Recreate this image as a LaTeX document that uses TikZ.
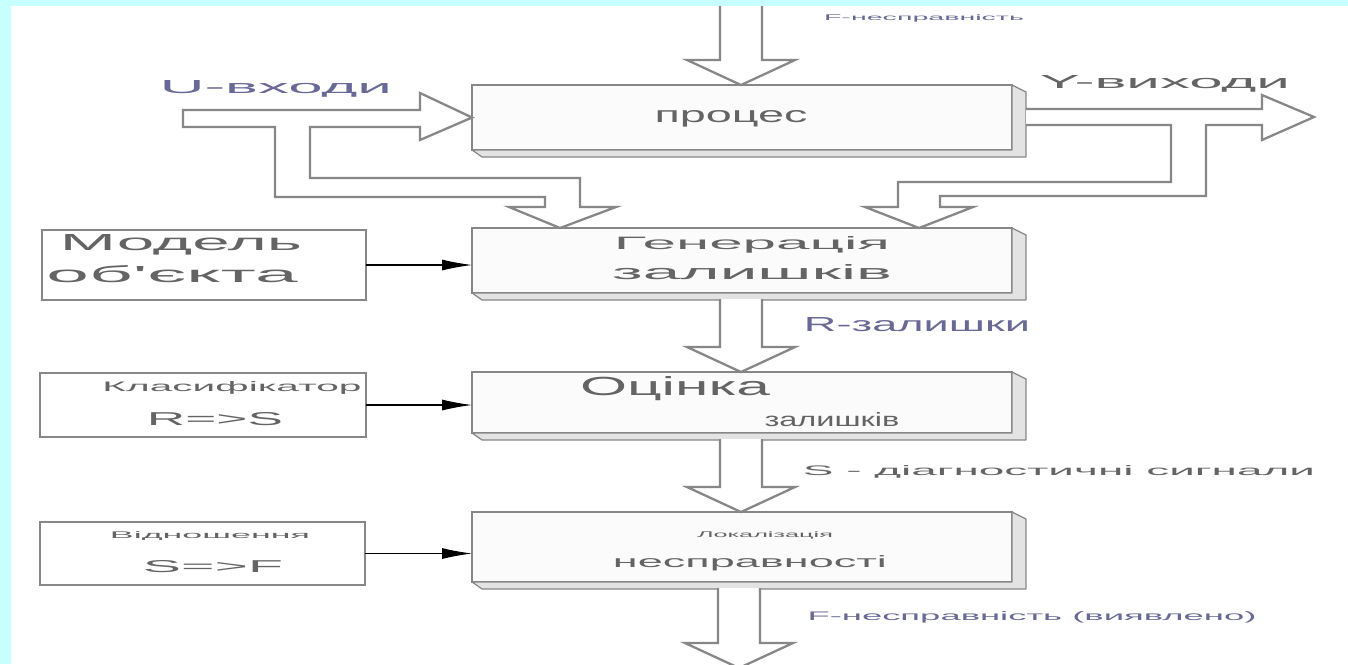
\documentclass[tikz,border=0pt]{standalone}
\usepackage{fontspec}
\setmainfont{Liberation Sans}
\usepackage{graphicx}
\usetikzlibrary{arrows.meta,positioning,calc}

\definecolor{bgcyan}{RGB}{200,255,255}
\definecolor{labblue}{RGB}{105,105,150}
\definecolor{txtgray}{RGB}{100,100,100}
\definecolor{edgegray}{RGB}{135,135,135}

\newlength\unitpx
\setlength\unitpx{0.02cm}
\newcommand{\wbox}[3]{\resizebox{#1\unitpx}{#2\unitpx}{#3}}

\tikzset{
    stage/.style={draw=edgegray, fill=gray!3, line width=0.9pt, minimum width=10.8cm, minimum height=1.3cm, inner sep=0pt, outer sep=0pt},
    aux/.style={draw=edgegray, fill=white, line width=1pt, inner sep=0pt, outer sep=0pt},
    side/.style={draw=edgegray, fill=gray!22, line width=0.7pt, line join=round},
    blk/.style={draw=edgegray, fill=white, line width=1.3pt, line join=miter},
    sig/.style={-{Latex[length=0.6cm,width=0.22cm]}, line width=0.6pt},
    lbl/.style={inner sep=0pt, text=txtgray},
}
\newcommand{\extrude}[1]{%
    \draw[side] (#1.north east) -- ++(14,7) -- ($(#1.south east)+(14,7)$) -- ($(#1.south west)+(10,7)$) -- (#1.south west) -- (#1.south east) -- cycle;}
\newcommand{\blkdown}[2]{%
    \draw[blk] ($(#1)+(-21,0)$) -- ($(#1 |- #2)+(-21,-25)$) -- ($(#1 |- #2)+(-54,-25)$) -- (#1 |- #2)
        -- ($(#1 |- #2)+(54,-25)$) -- ($(#1 |- #2)+(21,-25)$) -- ($(#1)+(21,0)$);}

\begin{document}
\begin{tikzpicture}[x=0.02cm, y=-0.02cm]
    \useasboundingbox (0,0) rectangle (1348,664);
    \clip (0,0) rectangle (1348,664);
    % background
    \fill[white] (0,0) rectangle (1348,664);
    \fill[bgcyan] (0,0) rectangle (1348,6);
    \fill[bgcyan] (0,0) rectangle (11,664);

    % main chain
    \node[stage] (proc) at (742,117.5) {};
    \node[stage] (gen) at (742,260.5) {};
    \node[stage, minimum height=1.22cm] (est) at (742,402.5) {};
    \node[stage, minimum height=1.4cm] (loc) at (742,547) {};
    \extrude{proc}
    \extrude{gen}
    \extrude{est}
    \extrude{loc}

    % side boxes
    \node[aux, minimum width=6.48cm, minimum height=1.4cm] (model) at (204,265) {};
    \node[aux, minimum width=6.52cm, minimum height=1.28cm] (cls) at (203,405) {};
    \node[aux, minimum width=6.5cm, minimum height=1.26cm] (rel) at (202.5,553.5) {};
    \draw[sig] (model.east) -- (model.east -| gen.west);
    \draw[sig] (cls.east) -- (cls.east -| est.west);
    \draw[sig] (rel.east) -- (rel.east -| loc.west);

    % block arrows down the chain
    \coordinate (fsrc) at (741,6);
    \coordinate (genout) at ($(gen.south)+(-1,6)$);
    \coordinate (estout) at ($(est.south)+(-1,6)$);
    \coordinate (locout) at ($(loc.south)+(-3,6)$);
    \coordinate (fout) at (739,668);
    \blkdown{fsrc}{proc.north}
    \blkdown{genout}{est.north}
    \blkdown{estout}{loc.north}
    \blkdown{locout}{fout}

    % U inputs
    \draw[blk] (183,110) -- (420,110) -- (420,93) -- (proc.west) -- (420,140) -- (420,127) -- (310,127)
        -- (310,178) -- (580,178) -- (580,207) -- (616,207) -- ($(gen.north west)+(88,0)$) -- (509,207)
        -- (545,207) -- (545,197) -- (275,197) -- (275,127) -- (183,127) -- cycle;
    % Y outputs
    \draw[blk] (1026,109) -- (1262,109) -- (1262,95) -- (1314,117) -- (1262,140) -- (1262,125) -- (1206,125)
        -- (1206,196) -- (940,196) -- (940,207) -- (973,207) -- ($(gen.north west)+(447,0)$) -- (865,207)
        -- (898,207) -- (898,182) -- (1171,182) -- (1171,125) -- (1026,125);

    % labels
    \node[lbl, text=labblue] (ftop) at (924,18) {\wbox{200}{6}{F-несправність}};
    \node[lbl, text=labblue] (uin) at (276,89) {\wbox{232}{13}{U-входи}};
    \node[lbl] (yout) at (1165,84) {\wbox{250}{13}{Y-виходи}};
    \node[lbl] (tproc) at (731,119) {\wbox{153}{12}{процес}};
    \node[lbl] (tmod1) at (181,245) {\wbox{242}{16}{Модель}};
    \node[lbl] (tmod2) at (172,274) {\wbox{251}{17}{об\textquotesingle єкта}};
    \node[lbl] (tgen1) at (752,244.5) {\wbox{276}{13}{Генерація}};
    \node[lbl] (tgen2) at (752,272) {\wbox{280}{15}{залишків}};
    \node[lbl, text=labblue] (rres) at (917,325) {\wbox{226}{14}{R-залишки}};
    \node[lbl] (tcls1) at (232,388) {\wbox{259}{10}{Класифікатор}};
    \node[lbl] (tcls2) at (215,419) {\wbox{136}{13}{R=>S}};
    \node[lbl] (test1) at (675,389) {\wbox{190}{19}{Оцінка}};
    \node[lbl] (test2) at (832,420) {\wbox{135}{14}{залишків}};
    \node[lbl] (sdiag) at (1059,472) {\wbox{512}{10}{S - діагностичні сигнали}};
    \node[lbl] (trel1) at (210,536) {\wbox{200}{7}{Відношення}};
    \node[lbl] (trel2) at (213,567) {\wbox{140}{12}{S=>F}};
    \node[lbl] (tloc1) at (765,535) {\wbox{136}{6}{Локалізація}};
    \node[lbl] (tloc2) at (750,563) {\wbox{274}{12}{несправності}};
    \node[lbl, text=labblue] (fdet) at (1032,617) {\wbox{449}{9}{F-несправність (виявлено)}};
\end{tikzpicture}
\end{document}
